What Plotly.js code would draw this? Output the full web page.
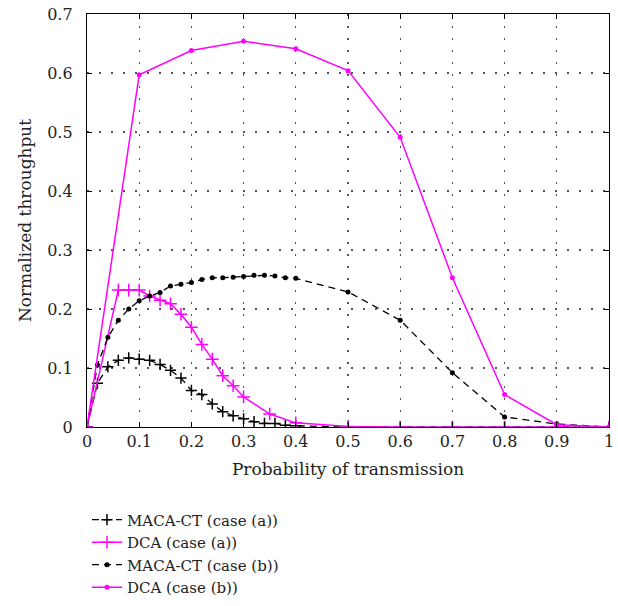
<!DOCTYPE html>
<html>
<head>
<meta charset="utf-8">
<script src="https://cdn.plot.ly/plotly-3.0.1.min.js"></script>
<style>html,body{margin:0;padding:0;background:#fff;}#chart{width:618px;height:606px;}</style>
</head>
<body>
<div id="chart"></div>
<script>
// ---- data ----
const seriesNames = ["MACA-CT (case (a))", "DCA (case (a))", "MACA-CT (case (b))", "DCA (case (b))"];

const macaA_x = [0,0.02,0.04,0.06,0.08,0.1,0.12,0.14,0.16,0.18,0.2,0.22,0.24,0.26,0.28,0.3,0.32,0.34,0.36,0.38,0.4,0.5,0.6,0.7,0.8,0.9,1];
const macaA_y = [0,0.074,0.102,0.113,0.117,0.115,0.113,0.106,0.096,0.083,0.062,0.055,0.039,0.026,0.019,0.014,0.009,0.006,0.006,0.003,0.002,0,0,0,0,0,0];

const dcaA_x = [0,0.06,0.08,0.1,0.12,0.14,0.16,0.18,0.2,0.22,0.24,0.26,0.28,0.3,0.35,0.4,0.5,0.6,0.7,0.8,0.9,1];
const dcaA_y = [0,0.232,0.232,0.232,0.222,0.215,0.209,0.191,0.169,0.140,0.115,0.087,0.070,0.051,0.022,0.007,0.001,0,0,0,0,0];

const macaB_x = [0,0.02,0.04,0.06,0.08,0.1,0.12,0.14,0.16,0.18,0.2,0.22,0.24,0.26,0.28,0.3,0.32,0.34,0.36,0.38,0.4,0.5,0.6,0.7,0.8,0.9,1];
const macaB_y = [0,0.105,0.152,0.181,0.200,0.214,0.222,0.228,0.239,0.242,0.245,0.250,0.253,0.253,0.254,0.255,0.257,0.257,0.256,0.253,0.252,0.229,0.181,0.092,0.017,0.005,0];

const dcaB_x = [0,0.1,0.2,0.3,0.4,0.5,0.6,0.7,0.8,0.9,1];
const dcaB_y = [0,0.597,0.638,0.654,0.641,0.604,0.491,0.253,0.055,0.004,0];

const xTitle = "Probability of transmission";
const yTitle = "Normalized throughput";

// ---- traces ----
const MAG = "#ff00ff";
const traces = [
  {x: macaA_x, y: macaA_y, name: seriesNames[0], type: "scatter", mode: "lines+markers",
   line: {color: "#000", width: 1.3, dash: "7px,5px"},
   marker: {symbol: "cross-thin", size: 8, color: "#000", line: {color: "#000", width: 1.5}}},
  {x: dcaA_x, y: dcaA_y, name: seriesNames[1], type: "scatter", mode: "lines+markers",
   line: {color: MAG, width: 1.5},
   marker: {symbol: "cross-thin", size: 9, color: MAG, line: {color: MAG, width: 1.5}}},
  {x: macaB_x, y: macaB_y, name: seriesNames[2], type: "scatter", mode: "lines+markers",
   line: {color: "#000", width: 1.3, dash: "7px,5px"},
   marker: {symbol: "circle", size: 5, color: "#000"}},
  {x: dcaB_x, y: dcaB_y, name: seriesNames[3], type: "scatter", mode: "lines+markers",
   line: {color: MAG, width: 1.5},
   marker: {symbol: "circle", size: 5, color: MAG}}
];

const FONT = "DejaVu Serif, serif";
const axisCommon = {
  showline: true, mirror: "ticks", linecolor: "#000", linewidth: 1.2,
  ticks: "inside", ticklen: 5, tickcolor: "#000", tickwidth: 1,
  showgrid: true, gridcolor: "#555", gridwidth: 1.3, griddash: "2px,10px",
  zeroline: false, automargin: false, tickfont: {family: FONT, size: 16, color: "#222"}
};

const layout = {
  width: 618, height: 606,
  margin: {l: 87, r: 9, t: 14, b: 179, autoexpand: false},
  paper_bgcolor: "#fff", plot_bgcolor: "#fff",
  font: {family: FONT, color: "#222"},
  showlegend: true,
  legend: {x: 0, xanchor: "left", y: -0.185, yanchor: "top", orientation: "v",
           bgcolor: "rgba(0,0,0,0)", font: {family: FONT, size: 15, color: "#222"},
           tracegroupgap: 0, itemwidth: 30},
  xaxis: Object.assign({}, axisCommon, {range: [0, 1], dtick: 0.1, tick0: 0,
           title: {text: xTitle, font: {family: FONT, size: 17, color: "#222"}, standoff: 12}}),
  yaxis: Object.assign({}, axisCommon, {range: [0, 0.7], dtick: 0.1, tick0: 0, ticklabelstandoff: 10,
           title: {text: yTitle, font: {family: FONT, size: 17, color: "#222"}, standoff: 11}})
};

Plotly.newPlot("chart", traces, layout, {displayModeBar: false, staticPlot: true});
</script>
</body>
</html>
